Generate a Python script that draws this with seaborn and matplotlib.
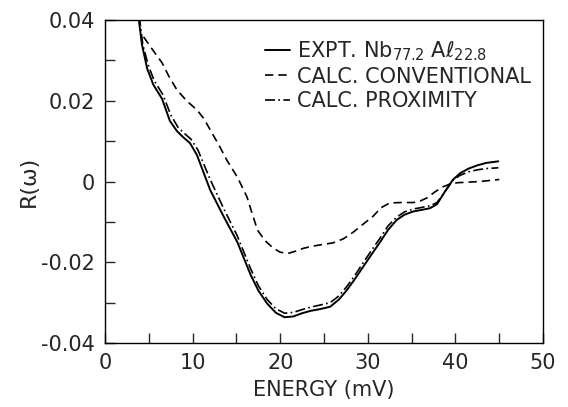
import matplotlib
matplotlib.use("Agg")
import matplotlib.pyplot as plt
import seaborn as sns
from matplotlib.ticker import MultipleLocator

# Data
# experimental curve (solid)
expt_e = [3.8, 4.2, 4.8, 5.5, 6.5, 7.4, 8.2, 8.9, 9.7, 10.5, 12.0, 13.5, 15.1, 16.6,
          17.5, 18.5, 19.5, 20.5, 21.5, 22.5, 23.5, 24.5, 25.7, 26.7, 27.6, 28.5,
          29.5, 30.5, 31.4, 32.3, 33.3, 34.2, 35.2, 36.2, 37.1, 37.9, 38.8, 39.7,
          40.5, 41.5, 42.5, 43.5, 44.9]
expt_r = [0.041, 0.034, 0.028, 0.024, 0.0205, 0.0150, 0.0125, 0.0110, 0.0095, 0.0065,
          -0.0021, -0.0085, -0.0150, -0.0230, -0.0270, -0.0302, -0.0325, -0.0336,
          -0.0334, -0.0326, -0.0320, -0.0316, -0.0310, -0.0292, -0.0269, -0.0242,
          -0.0210, -0.0178, -0.0150, -0.0120, -0.0095, -0.0082, -0.0074, -0.0070,
          -0.0066, -0.0056, -0.0025, 0.0004, 0.0020, 0.0032, 0.0040, 0.0046, 0.0050]

# conventional calculation (dashed)
conv_e = [4.4, 5.3, 6.5, 7.3, 8.2, 9.3, 10.5, 11.3, 12.0, 13.0, 13.9, 15.1, 16.2,
          16.8, 17.4, 18.2, 19.2, 20.0, 20.9, 21.8, 22.7, 23.7, 24.8, 26.0, 27.2,
          28.3, 29.5, 30.6, 31.5, 32.5, 33.8, 35.2, 36.0, 36.8, 37.7, 38.6, 39.4,
          40.2, 42.8, 45.0]
conv_r = [0.0358, 0.0330, 0.0294, 0.0260, 0.0227, 0.0200, 0.0177, 0.0155, 0.0128,
          0.0090, 0.0053, 0.0011, -0.0038, -0.0080, -0.0120, -0.0145, -0.0165,
          -0.0175, -0.0178, -0.0172, -0.0165, -0.0160, -0.0156, -0.0152, -0.0142,
          -0.0126, -0.0105, -0.0086, -0.0065, -0.0053, -0.0052, -0.0052, -0.0048,
          -0.0040, -0.0025, -0.0013, -0.0006, -0.0003, 0.0000, 0.0005]

# proximity calculation (dash-dot)
prox_e = [3.9, 4.3, 4.9, 5.6, 6.6, 7.5, 8.3, 9.0, 9.8, 10.6, 12.0, 13.5, 15.1, 16.6,
          17.5, 18.5, 19.5, 20.5, 21.5, 22.5, 23.5, 24.5, 25.7, 26.7, 27.6, 28.5,
          29.5, 30.5, 31.4, 32.3, 33.3, 34.2, 35.2, 36.2, 37.1, 37.9, 38.8, 39.7,
          40.5, 41.5, 42.5, 43.5, 44.9]
prox_r = [0.041, 0.034, 0.029, 0.025, 0.0215, 0.0165, 0.0135, 0.0120, 0.0105, 0.0078,
          0.0005, -0.0065, -0.0135, -0.0215, -0.0258, -0.0292, -0.0315, -0.0326,
          -0.0324, -0.0317, -0.0311, -0.0306, -0.0300, -0.0283, -0.0260, -0.0233,
          -0.0200, -0.0168, -0.0140, -0.0110, -0.0088, -0.0075, -0.0068, -0.0064,
          -0.0060, -0.0052, -0.0025, 0.0003, 0.0015, 0.0024, 0.0029, 0.0032, 0.0034]

x_ticks = [0, 10, 20, 30, 40, 50]
y_ticks = [-0.04, -0.02, 0, 0.02, 0.04]
y_labels = ["-0.04", "-0.02", "0", "0.02", "0.04"]

labels = ["EXPT. Nb$_{77.2}$ A$\\ell_{22.8}$",
          "CALC. CONVENTIONAL",
          "CALC. PROXIMITY"]

sns.set_style("ticks")
plt.rcParams["font.family"] = ["DejaVu Sans"]
plt.rcParams["mathtext.fontset"] = "dejavusans"

fig = plt.figure(figsize=(5.68, 4.07), dpi=100)
ax = fig.add_axes([0.185, 0.157, 0.771, 0.794])

sns.lineplot(x=expt_e, y=expt_r, ax=ax, color="black", lw=1.4, linestyle="-",
             sort=False, estimator=None, label=labels[0])
sns.lineplot(x=conv_e, y=conv_r, ax=ax, color="black", lw=1.2, linestyle=(0, (5, 3)),
             sort=False, estimator=None, label=labels[1])
sns.lineplot(x=prox_e, y=prox_r, ax=ax, color="black", lw=1.2, linestyle=(0, (6, 2, 1, 2)),
             sort=False, estimator=None, label=labels[2])

ax.set_xlim(0, 50)
ax.set_ylim(-0.04, 0.04)
ax.set_xticks(x_ticks)
ax.set_xticklabels([str(t) for t in x_ticks])
ax.set_yticks(y_ticks)
ax.set_yticklabels(y_labels)
ax.xaxis.set_minor_locator(MultipleLocator(5))
ax.yaxis.set_minor_locator(MultipleLocator(0.01))
ax.tick_params(which="both", direction="in", length=7, width=1, labelsize=15, pad=7)
for s in ax.spines.values():
    s.set_linewidth(1.0)
    s.set_color("black")

ax.set_xlabel("ENERGY (mV)", fontsize=15, labelpad=5)
ax.set_ylabel("R(ω)", fontsize=16, labelpad=2)

ax.legend(loc="upper right", frameon=False, fontsize=15, handlelength=1.2,
          handletextpad=0.3, labelspacing=0.2, borderaxespad=0.2,
          bbox_to_anchor=(1.0, 0.98))

plt.savefig("out.png", dpi=100)
plt.close()
